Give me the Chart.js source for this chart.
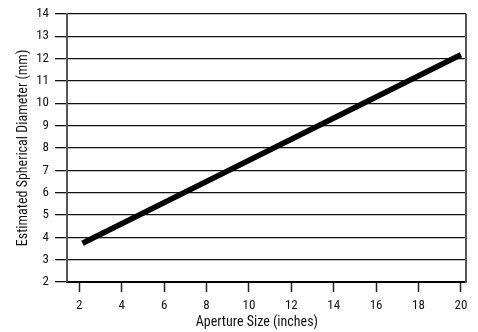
<!DOCTYPE html>
<html>
<head>
<meta charset="utf-8">
<script src="https://cdn.jsdelivr.net/npm/chart.js@4/dist/chart.umd.min.js"></script>
<style>
  body { margin: 0; background: #fff; }
</style>
</head>
<body>
<canvas id="apChart" width="478" height="332"></canvas>
<script>
// Aperture vs estimated spherical diameter
const apertures = [2.15, 20];
const diameters = [3.73, 12.17];
const xTicks = [2, 4, 6, 8, 10, 12, 14, 16, 18, 20];

// narrow Roboto; the stretch keyword rides in the weight slot of the font string
const tickFont = { family: 'Roboto', size: 13, weight: 'semi-condensed' };
const titleFont = { family: 'Roboto', size: 14, weight: 'semi-condensed' };

// right edge of the frame
const rightEdge = {
  id: 'rightEdge',
  afterDraw(chart) {
    const a = chart.chartArea, c = chart.ctx;
    c.save();
    c.strokeStyle = '#555';
    c.lineWidth = 2;
    c.beginPath();
    c.moveTo(a.right, a.top);
    c.lineTo(a.right, a.bottom + 1);
    c.stroke();
    c.restore();
  }
};

const data = {
  datasets: [{
    data: apertures.map((x, i) => ({ x: x, y: diameters[i] })),
    borderColor: '#000',
    borderWidth: 5.5,
    pointRadius: 0,
    fill: false
  }]
};

const options = {
  type: 'line',
  data,
  plugins: [rightEdge],
  options: {
    responsive: false,
    animation: false,
    layout: { padding: { top: 12, right: 12, left: 0, bottom: 0 } },
    plugins: { legend: { display: false }, tooltip: { enabled: false } },
    scales: {
      x: {
        type: 'linear',
        min: 1.42,
        max: 20.24,
        afterBuildTicks: s => { s.ticks = xTicks.map(v => ({ value: v })); },
        afterFit: s => { s.height = 50; },
        grid: { drawOnChartArea: false, color: '#222', tickLength: 10, tickWidth: 1.5 },
        border: { color: '#000', width: 2 },
        ticks: { color: '#111', font: tickFont, padding: 6, maxRotation: 0 },
        // trailing spaces pull the centred title a little left, as in the original
        title: { display: true, text: 'Aperture Size (inches)      ', color: '#111', font: titleFont, padding: { top: 0, bottom: 1 } }
      },
      y: {
        min: 2,
        max: 14,
        ticks: { stepSize: 1, color: '#111', font: tickFont, padding: 6 },
        afterFit: s => { s.width = 67; },
        grid: { color: '#111', lineWidth: 1.3, tickLength: 12 },
        border: { color: '#555', width: 2 },
        title: { display: true, text: 'Estimated Spherical Diameter (mm)', color: '#111', font: titleFont, padding: { top: 15, bottom: 0 } }
      }
    }
  }
};

let apChart = new Chart(document.getElementById('apChart'), options);
</script>
</body>
</html>
